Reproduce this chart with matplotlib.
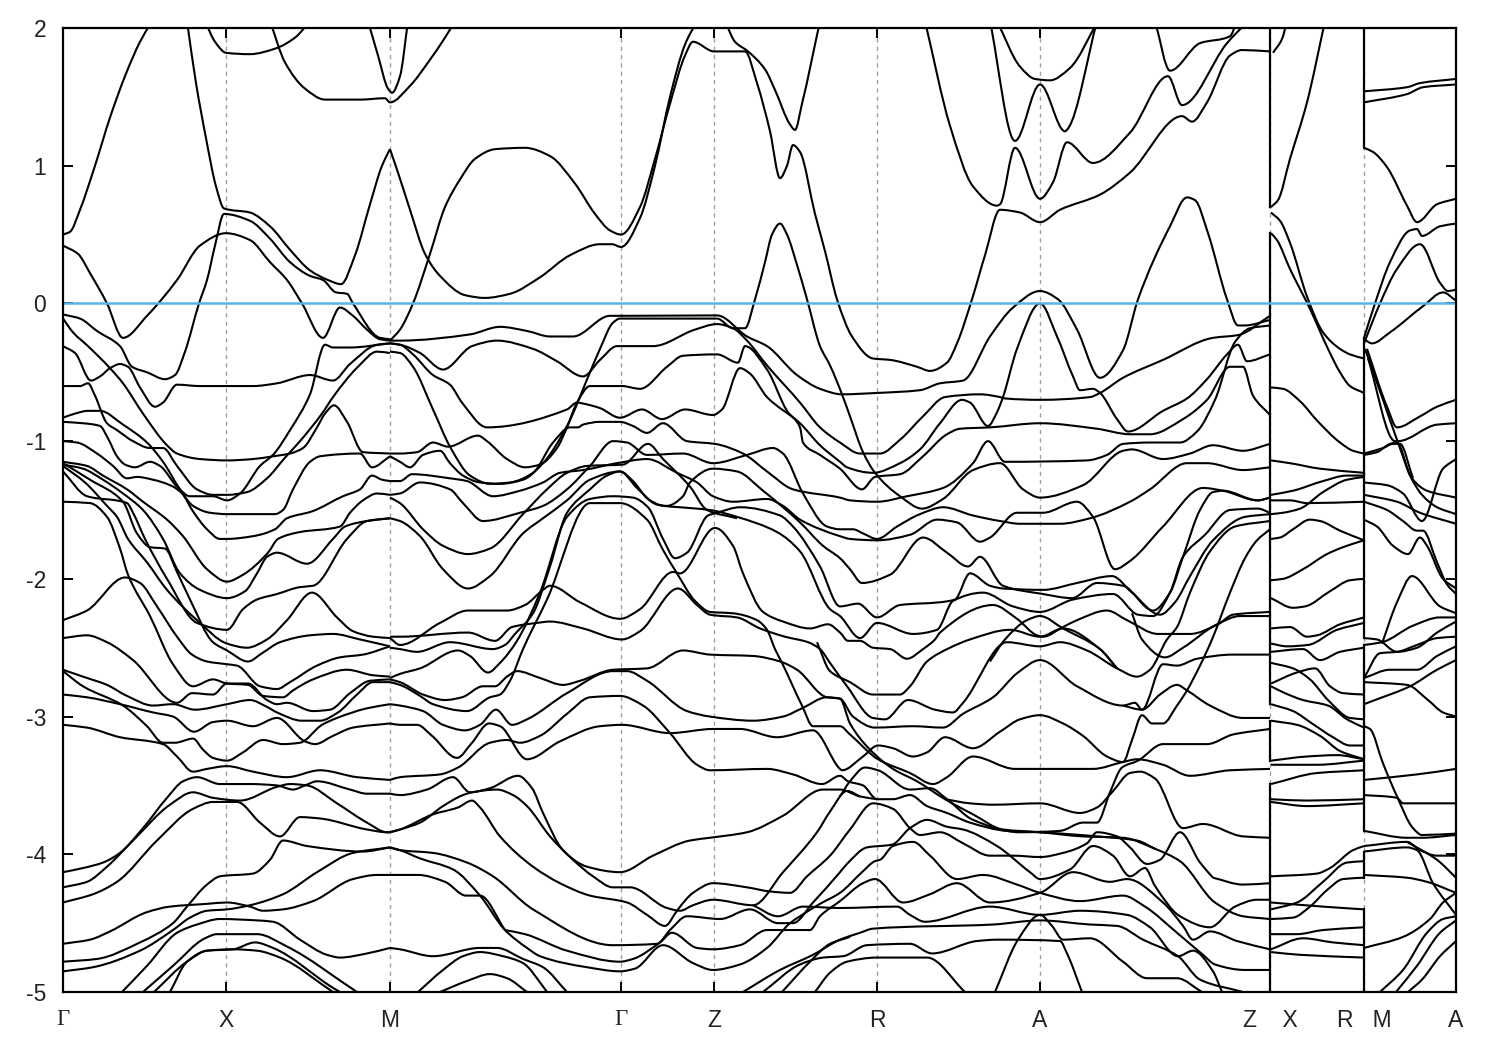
import numpy as np
import matplotlib
matplotlib.use("Agg")
import matplotlib.pyplot as plt
from matplotlib.path import Path
from matplotlib.patches import PathPatch

# high-symmetry points along the k-path (path position) and their labels
k_ticks = [63, 226, 390, 621, 714, 877, 1040, 1270, 1364, 1456]
k_labels = ["Γ", "X", "M", "Γ", "Z", "R", "A", "Z    X", "R   M", "A"]
energy_ticks = [2, 1, 0, -1, -2, -3, -4, -5]

# band pieces: flat lists k, E, k, E ...
# ---- Γ - X - M ----
g01 = [63,.5,70,.52,80,.68,95,1.0,110,1.35,125,1.65,140,1.9,152,2.05]
g02 = [187,2.05,196,1.6,206,1.2,216,.85,224,.69,250,.66,270,.56,290,.39,310,.24,328,.17,341,.14,355,.35,370,.72,382,1.0,390,1.12]
g03 = [63,-.08,80,-.11,97,-.2,120,-.31,132,-.46,147,-.5,165,-.55,175,-.52,185,-.35,199,0,207,.17,215,.42,224,.65,250,.6,270,.47,290,.3,310,.2,323,.17,336,.08,347,.07,353,0,380,-.25,390,-.26]
g04 = [63,.42,78,.36,90,.22,107,0,123,-.25,147,-.09,177,.17,200,.42,226,.51,250,.46,270,.3,287,.17,302,0,323,-.25,340,-.03,353,-.09,367,-.19,380,-.26,390,-.27]
g05 = [205,2.05,215,1.9,226,1.82,250,1.81,275,1.85,295,1.93,310,2.05]
g06 = [270,2.05,285,1.75,305,1.56,325,1.48,360,1.48,385,1.49,390,1.46,410,1.58,430,1.77,445,1.93,455,2.05]
g07 = [368,2.05,378,1.8,388,1.56,392,1.53,400,1.65,408,2.05]
g08 = [63,-.11,73,-.21,88,-.31,110,-.47,123,-.58,143,-.8,167,-1.03,177,-1.09,200,-1.13,227,-1.14,253,-1.13,273,-1.11,290,-1.09,303,-1.05,317,-.9,325,-.8,334,-.74,347,-.86,363,-1.08,390,-1.09]
g09 = [63,-.31,75,-.36,91,-.56,100,-.53,110,-.47,120,-.44,128,-.46,140,-.61,155,-.75,163,-.72,177,-.59,200,-.6,227,-.6,253,-.6,277,-.58,310,-.52,333,-.56,350,-.44,377,-.3,390,-.29]
g10 = [63,-.6,80,-.6,88,-.58,95,-.67,107,-.87,117,-.92,133,-1.0,150,-1.05,163,-1.05,177,-1.18,197,-1.35,213,-1.39,227,-1.39,247,-1.37,267,-1.27,285,-1.12,300,-1.0,322,-.8,333,-.68,358,-.46,377,-.35,390,-.36]
g11 = [63,-.83,75,-.8,88,-.78,100,-.78,123,-.88,147,-1.01,163,-1.15,180,-1.35,193,-1.47,210,-1.52,227,-1.53,253,-1.53,275,-1.53,283,-1.5,293,-1.35,310,-1.15,320,-1.11,360,-1.09,372,-1.19,390,-1.11]
g12 = [63,-.86,83,-.87,100,-.89,108,-.98,117,-1.11,125,-1.17,135,-1.19,150,-1.15,160,-1.18,177,-1.33,190,-1.4,213,-1.4,227,-1.43,240,-1.38,260,-1.18,273,-1.1,290,-.92,310,-.66,325,-.3,333,-.32,350,-.32,390,-.29]
g13 = [63,-1.0,77,-1.01,97,-1.09,113,-1.18,127,-1.27,137,-1.26,153,-1.28,173,-1.33,182,-1.38,193,-1.51,207,-1.64,220,-1.71,227,-1.71,253,-1.69,275,-1.64,287,-1.56,312,-1.51,343,-1.4,360,-1.35,372,-1.25,382,-1.28,390,-1.29]
g14 = [63,-1.15,87,-1.18,103,-1.25,127,-1.35,143,-1.44,167,-1.57,183,-1.69,207,-1.93,227,-2.02,243,-1.97,268,-1.81,278,-1.71,300,-1.66,340,-1.62,350,-1.52,363,-1.43,377,-1.38,390,-1.39]
g15 = [63,-1.17,83,-1.2,103,-1.28,123,-1.38,143,-1.5,163,-1.71,180,-1.96,200,-2.08,227,-2.14,245,-2.09,257,-1.96,267,-1.84,277,-1.81,307,-1.89,333,-1.71,345,-1.62,367,-1.58,390,-1.56]
g16 = [63,-1.22,87,-1.4,127,-1.45,133,-1.52,145,-1.71,167,-2.0,197,-2.32,227,-2.37,243,-2.22,257,-2.15,277,-2.11,300,-2.06,313,-2.05,347,-1.71,367,-1.58,390,-1.56]
g17 = [63,-2.3,87,-2.23,125,-1.99,140,-2.03,157,-2.2,177,-2.42,192,-2.55,207,-2.6,227,-2.62,237,-2.63,260,-2.78,277,-2.8,290,-2.75,317,-2.63,340,-2.57,363,-2.55,390,-2.49]
g18 = [63,-1.44,90,-1.45,107,-1.55,120,-1.78,128,-1.97,150,-2.27,173,-2.62,193,-2.78,213,-2.73,227,-2.76,248,-2.77,263,-2.85,283,-2.86,293,-2.81,313,-2.73,347,-2.66,373,-2.7,390,-2.71]
g19 = [63,-1.18,85,-1.3,107,-1.47,117,-1.55,128,-1.71,147,-1.88,167,-2.08,197,-2.3,227,-2.47,247,-2.5,267,-2.44,287,-2.3,312,-2.1,337,-2.28,353,-2.38,373,-2.42,390,-2.43]
g20 = [63,-1.16,90,-1.28,123,-1.44,137,-1.67,150,-1.77,165,-1.78,177,-1.95,190,-2.15,213,-2.46,227,-2.52,248,-2.6,262,-2.54,280,-2.46,310,-2.41,333,-2.4,360,-2.44,390,-2.49]
g21 = [63,-2.43,87,-2.41,107,-2.46,133,-2.59,177,-2.9,192,-2.83,213,-2.84,227,-2.76,248,-2.76,267,-2.88,277,-2.91,287,-2.9,313,-2.96,330,-2.95,350,-2.83,370,-2.74,390,-2.73]
g22 = [63,-2.66,83,-2.71,107,-2.77,127,-2.85,153,-2.92,173,-2.91,195,-2.95,227,-2.91,250,-2.88,267,-2.93,277,-2.97,302,-3.03,320,-3.03,338,-2.97,357,-2.84,373,-2.75,390,-2.75]
g23 = [63,-2.67,83,-2.78,123,-2.92,147,-3.07,163,-3.19,175,-3.19,193,-3.16,203,-3.24,213,-3.3,227,-3.32,243,-3.26,263,-3.17,283,-3.2,300,-3.19,322,-3.06,337,-3.01,367,-2.94,390,-2.91]
g24 = [63,-2.84,87,-2.86,120,-2.91,153,-2.97,173,-3.0,194,-3.11,213,-3.04,227,-3.03,253,-3.07,277,-3.01,305,-3.18,315,-3.2,333,-3.14,353,-3.08,390,-3.05]
g25 = [63,-3.06,87,-3.08,120,-3.15,163,-3.2,177,-3.29,193,-3.4,207,-3.38,227,-3.36,253,-3.4,287,-3.44,320,-3.39,357,-3.44,390,-3.46]
g26 = [63,-4.13,83,-4.1,103,-4.06,120,-3.99,143,-3.81,167,-3.59,183,-3.47,197,-3.44,220,-3.49,250,-3.49,277,-3.5,293,-3.53,305,-3.5,317,-3.47,350,-3.53,367,-3.56,390,-3.56]
g27 = [63,-4.24,87,-4.2,107,-4.09,133,-3.9,170,-3.64,193,-3.55,213,-3.59,240,-3.61,277,-3.51,290,-3.49,307,-3.5,337,-3.63,367,-3.77,387,-3.84,390,-3.84]
g28 = [63,-4.35,93,-4.29,117,-4.2,157,-3.9,193,-3.67,213,-3.62,237,-3.62,260,-3.77,280,-3.87,300,-3.73,320,-3.74,367,-3.82,387,-3.84,390,-3.84]
g29 = [63,-4.65,90,-4.62,110,-4.56,147,-4.42,170,-4.38,207,-4.36,227,-4.35,250,-4.38,263,-4.41,283,-4.4,313,-4.34,353,-4.18,377,-4.15,418,-4.15,445,-4.2,466,-4.3,480,-4.3,505,-4.55]
g30 = [63,-4.78,97,-4.76,140,-4.64,173,-4.5,187,-4.38,207,-4.22,220,-4.16,253,-4.14,270,-4.04,283,-3.9,307,-3.94,363,-3.98,390,-3.95]
g31 = [63,-4.85,93,-4.82,140,-4.7,173,-4.55,190,-4.46,207,-4.41,227,-4.4,250,-4.37,283,-4.29,317,-4.13,353,-3.99,390,-3.95]
g32 = [122,-5,147,-4.81,177,-4.57,197,-4.51,220,-4.47,257,-4.48,273,-4.49,300,-4.62,327,-4.73,340,-4.75,367,-4.72,390,-4.68]
g33 = [143,-5,173,-4.81,205,-4.61,217,-4.58,257,-4.58,287,-4.67,357,-5]
g34 = [154,-5,187,-4.78,207,-4.7,233,-4.69,255,-4.64,273,-4.68,333,-4.97,340,-5]
g35 = [170,-5,187,-4.78,207,-4.7,233,-4.69,257,-4.7,280,-4.75,333,-5]

# ---- M - Γ - Z - (towards R) ----
m01 = [390,1.12,398,.95,410,.68,425,.36,440,.2,465,.06,485,.04,510,.07,540,.19,570,.35,600,.43,612,.43,621,.41,640,.62,655,1.0,670,1.5,685,1.88,697,2.05]
m02 = [390,-.27,400,-.19,413,0,430,.36,445,.7,460,.9,475,1.05,495,1.12,525,1.13,550,1.07,575,.87,595,.65,610,.53,621,.5,640,.7,655,1.05,670,1.45,685,1.8,693,1.9,714,1.83,745,1.83,757,1.6,770,1.25,780,.91,787,1.0,793,1.15,800,1.1,815,.65,825,.38,837,.03,852,-.24,873,-.4,890,-.41,917,-.46,930,-.49,947,-.43,957,-.29,972,.03,985,.35,1000,.68,1020,.66,1040,.59,1060,.68,1100,.79,1130,.95,1182,1.36,1192,1.32,1207,1.46,1230,1.8,1242,1.84,1270,1.83]
m03 = [725,2.05,735,1.9,748,1.83,765,1.7,775,1.55,790,1.3,795,1.26,802,1.45,820,2.05]
m04 = [390,-.27,400,-.27,470,-.225,500,-.17,527,-.2,550,-.24,573,-.24,610,-.09,622,-.09,717,-.087,747,-.24,767,-.31,797,-.52,820,-.62,842,-.66,877,-.65,920,-.63,940,-.58,963,-.56,990,-.24,1013,-.03,1040,.09,1058,.03,1077,-.19,1100,-.54,1123,-.34,1138,.03,1170,.56,1187,.77,1195,.75,1208,.51,1227,.03,1238,-.16,1245,-.16,1270,-.12]
m05 = [390,-1.11,400,-1.15,410,-1.19,423,-1.1,440,-1.07,450,-1.16,463,-1.25,480,-1.3,500,-1.31,523,-1.28,543,-1.16,567,-.89,590,-.5,600,-.33,613,-.14,620,-.11,717,-.11,733,-.18,745,-.18,755,.03,765,.3,772,.5,780,.58,787,.5,797,.28,807,.03,820,-.31,830,-.45,842,-.66,850,-.82,863,-1.08,875,-1.23,900,-1.4,922,-1.49,943,-1.42,973,-1.21,1000,-1.16,1023,-1.35,1040,-1.41,1083,-1.32,1123,-1.07,1132,-1.06,1163,-1.13,1190,-1.09,1213,-1.03,1243,-1.07,1270,-1.02]
m06 = [390,-.29,400,-.3,420,-.36,443,-.48,472,-.31,497,-.27,533,-.33,557,-.42,583,-.53,600,-.41,617,-.31,653,-.31,695,-.19,717,-.15,733,-.18,747,-.27,767,-.45,800,-.72,820,-.9,840,-1.01,860,-1.09,880,-1.09,900,-.99,923,-.82,945,-.68,980,-.66,1000,-.68,1005,-.69,1040,-.7,1090,-.68,1100,-.65,1123,-.54,1163,-.41,1213,-.25,1238,-.23,1270,-.09]
m07 = [390,-.29,400,-.3,413,-.37,433,-.52,450,-.59,462,-.72,487,-.9,567,-.77,577,-.72,585,-.73,600,-.76,620,-.83,642,-.77,662,-.84,685,-.77,713,-.81,722,-.77,740,-.47,750,-.51,767,-.68,800,-.87,820,-1.03,840,-1.15,847,-1.19,873,-1.23,900,-1.16,920,-1.06,940,-.87,962,-.7,970,-.72,988,-.89,997,-.79,1003,-.68,1017,-.33,1040,0,1057,-.24,1073,-.53,1080,-.63,1093,-.62,1100,-.65,1117,-.84,1128,-.93,1163,-.78,1187,-.69,1207,-.55,1227,-.37,1238,-.3,1247,-.42,1270,-.37]
m08 = [390,-.35,400,-.36,413,-.46,433,-.77,450,-1.04,470,-1.25,490,-1.31,510,-1.3,533,-1.23,553,-1.01,570,-.9,578,-.9,583,-.88,600,-.86,620,-.86,633,-.89,647,-.94,663,-.87,687,-1.0,715,-1.02,743,-1.09,767,-1.22,793,-1.35,840,-1.41,850,-1.43,877,-1.44,907,-1.4,943,-1.34,973,-1.16,988,-1.0,1005,-1.15,1087,-1.14,1107,-1.1,1123,-1.02,1150,-1.01,1180,-1.01,1197,-.93,1215,-.7,1235,-.28,1250,-.18,1270,-.16]
m09 = [390,-1.09,400,-1.09,417,-1.08,433,-1.01,448,-1.04,478,-.96,487,-1.0,507,-1.13,525,-1.19,540,-1.17,557,-1.05,567,-.9,577,-.72,590,-.6,600,-.6,622,-.6,640,-.62,667,-.46,683,-.38,717,-.37,738,-.43,745,-.31,767,-.48,787,-.78,800,-.9,803,-1.01,820,-1.1,840,-1.2,862,-1.35,875,-1.26,900,-1.24,923,-1.11,947,-.95,960,-.91,990,-.9,1040,-.87,1097,-.91,1130,-.95,1150,-.95,1183,-.84,1207,-.7,1230,-.46,1243,-.46,1253,-.67,1270,-.81]
m10 = [390,-1.29,400,-1.29,412,-1.24,450,-1.27,467,-1.29,493,-1.4,520,-1.36,543,-1.3,560,-1.23,583,-1.21,617,-1.16,647,-1.13,677,-1.23,697,-1.3,713,-1.4,733,-1.44,767,-1.42,783,-1.47,800,-1.57,840,-1.69,850,-1.71,877,-1.72,910,-1.68,937,-1.57,957,-1.59,980,-1.73,990,-1.7,1017,-1.52,1043,-1.52,1077,-1.44,1093,-1.55,1115,-1.93,1130,-1.87,1163,-1.62,1203,-1.34,1223,-1.36,1258,-1.43,1270,-1.41]
m11 = [390,-1.39,400,-1.38,420,-1.3,450,-1.35,463,-1.45,483,-1.58,520,-1.52,543,-1.47,567,-1.35,590,-1.18,613,-1.0,627,-1.01,647,-1.1,683,-1.09,713,-1.16,747,-1.1,773,-1.05,783,-1.09,803,-1.38,827,-1.62,840,-1.64,853,-1.64,863,-1.67,877,-1.71,897,-1.62,920,-1.53,943,-1.48,973,-1.54,1000,-1.58,1020,-1.6,1060,-1.6,1090,-1.56,1130,-1.44,1150,-1.35,1187,-1.16,1207,-1.16,1243,-1.21,1270,-1.19]
m12 = [390,-1.41,400,-1.45,423,-1.64,443,-1.76,468,-1.82,490,-1.78,523,-1.53,547,-1.35,567,-1.23,587,-1.18,623,-1.17,648,-1.02,663,-1.13,690,-1.33,707,-1.5,737,-1.56]
m13 = [390,-1.56,400,-1.58,420,-1.69,443,-1.93,468,-2.07,490,-1.98,523,-1.67,543,-1.56,567,-1.43,590,-1.28,620,-1.22,637,-1.34,657,-1.46,667,-1.47,683,-1.4,690,-1.3,713,-1.2,737,-1.22,763,-1.36,800,-1.59,823,-1.76,840,-1.85,850,-1.93,862,-2.03,890,-1.97,923,-1.7,947,-1.81,968,-1.91,980,-1.84,1003,-2.05,1043,-2.11,1072,-2.14,1097,-2.03,1123,-2.05,1153,-2.23,1170,-2.1,1183,-1.84,1200,-1.5,1213,-1.37,1223,-1.36,1258,-1.43,1270,-1.41]
m14 = [390,-2.5,400,-2.51,417,-2.53,450,-2.46,493,-2.51,505,-2.48,515,-2.4,533,-2.25,550,-1.91,567,-1.52,590,-1.35,607,-1.25,620,-1.22,633,-1.29,648,-1.42,663,-1.47,680,-1.48,710,-1.5,737,-1.55,777,-1.66,800,-1.8,830,-2.22,840,-2.27,860,-2.43,877,-2.32,913,-2.4,937,-2.37,953,-2.16,983,-2.1,1013,-2.2,1040,-2.24,1073,-2.15,1113,-2.11,1138,-2.26,1153,-2.27,1170,-2.1,1183,-1.84,1205,-1.68,1230,-1.5,1258,-1.49,1270,-1.52]
m15 = [390,-2.72,400,-2.69,420,-2.65,458,-2.52,470,-2.56,488,-2.68,500,-2.61,517,-2.45,540,-2.1,567,-1.55,590,-1.42,613,-1.4,633,-1.41,648,-1.48,663,-1.71,675,-1.85,687,-1.81,708,-1.54,717,-1.52,740,-1.48,780,-1.54,793,-1.62,820,-1.91,840,-2.2,858,-2.18,877,-2.28,900,-2.19,940,-2.17,955,-2.15,970,-1.96,990,-2.05,1003,-2.07,1043,-2.08,1077,-2.03,1112,-1.98,1132,-2.1,1160,-2.26,1175,-2.17,1190,-1.98,1213,-1.72,1245,-1.55,1270,-1.53]
m16 = [390,-2.75,400,-2.77,420,-2.85,433,-2.91,467,-2.96,490,-2.86,500,-2.84,510,-2.74,523,-2.51,547,-2.15,590,-1.45,620,-1.45,647,-1.57,663,-1.79,677,-1.96,695,-2.16,710,-2.24,733,-2.25,757,-2.3,767,-2.37,775,-2.51,782,-2.61,802,-2.92,813,-3.07,840,-3.07,850,-3.13,878,-3.31,910,-3.41,933,-3.49,947,-3.44,973,-3.29,1015,-3.38,1093,-3.38,1123,-3.33,1137,-3.31,1163,-3.35,1190,-3.43,1230,-3.39,1270,-3.38]
m17 = [390,-2.43,400,-2.48,440,-2.32,468,-2.23,507,-2.23,525,-2.19,543,-2.08,550,-2.05,580,-2.17,620,-2.29,640,-2.22,673,-1.95,680,-1.96,715,-1.63,733,-1.76,743,-1.96,763,-2.24,783,-2.31,810,-2.36,828,-2.33,840,-2.39,848,-2.45,860,-2.45,873,-2.5,890,-2.51,907,-2.58,923,-2.51,935,-2.44,940,-2.39,993,-2.19,1017,-2.29,1037,-2.41,1043,-2.42,1063,-2.35,1077,-2.3,1107,-2.23,1127,-2.3,1158,-2.4,1190,-2.4,1218,-2.33,1233,-2.26,1270,-2.24]
m18 = [390,-2.42,400,-2.42,468,-2.39,495,-2.45,512,-2.35,537,-2.32,550,-2.31,583,-2.36,622,-2.44,640,-2.38,678,-2.07,697,-2.19,710,-2.26,737,-2.28,760,-2.36,785,-2.42,808,-2.46,820,-2.51,830,-2.61,847,-2.78,873,-3.01,885,-3.02,908,-2.88,935,-2.95,953,-2.97,963,-2.9,1007,-2.46,1040,-2.49,1060,-2.46,1087,-2.52,1117,-2.65,1137,-2.71,1150,-2.66,1167,-2.44,1177,-2.35,1190,-2.1,1210,-1.8,1235,-1.62,1270,-1.58]
m21 = [390,-2.73,400,-2.75,423,-2.84,445,-2.88,462,-2.86,483,-2.78,495,-2.78,507,-2.71,517,-2.67,540,-2.72,563,-2.77,580,-2.74,613,-2.66,647,-2.65,683,-2.52,710,-2.55,753,-2.56,780,-2.6,797,-2.66,827,-2.86,840,-2.87,853,-3.0,875,-3.08,913,-3.07,943,-3.08,963,-2.98,993,-2.86,1018,-2.68,1040,-2.59,1077,-2.78,1123,-2.92,1135,-2.9,1142,-2.95,1163,-2.62,1177,-2.63,1197,-2.58,1233,-2.55,1270,-2.55]
m23 = [390,-2.91,400,-2.92,423,-2.96,443,-3.06,465,-3.1,480,-3.06,496,-2.95,512,-3.06,527,-3.02,567,-2.83,613,-2.67,627,-2.67,647,-2.74,687,-2.96,710,-3.0,753,-3.03,783,-3.0,802,-2.94,827,-2.86,840,-2.87,850,-3.05,870,-3.24,893,-3.38,917,-3.47,945,-3.6,973,-3.71,1003,-3.82,1040,-3.84,1083,-3.87,1123,-3.88,1155,-3.96,1180,-4.05,1215,-4.35,1243,-4.45,1270,-4.47]
m24 = [390,-3.05,400,-3.06,417,-3.06,432,-3.14,457,-3.3,472,-3.19,489,-3.05,500,-3.07,527,-3.31,560,-3.18,600,-3.07,622,-3.06,670,-3.12,713,-3.09,740,-3.09,777,-3.15,813,-3.1,840,-3.38,842,-3.39,863,-3.29,878,-3.21,893,-3.23,913,-3.29,927,-3.26,945,-3.15,973,-3.23,1000,-3.11,1020,-3.02,1040,-2.99,1063,-3.05,1083,-3.14,1107,-3.29,1123,-3.33,1132,-3.17,1142,-2.99,1152,-3.05,1163,-3.05,1177,-2.92,1187,-2.81,1200,-2.63,1212,-2.44,1230,-2.1,1245,-1.85,1257,-1.72,1270,-1.64]
m25 = [390,-3.46,400,-3.44,440,-3.42,458,-3.37,490,-3.19,507,-3.17,520,-3.19,540,-3.14,567,-2.98,590,-2.86,620,-2.85,643,-2.92,670,-3.12,697,-3.35,710,-3.39,767,-3.38,793,-3.42,822,-3.49,840,-3.43,848,-3.47,863,-3.5,877,-3.6,893,-3.6,910,-3.57,927,-3.65,947,-3.7,970,-3.77,1007,-3.83,1040,-3.84,1097,-3.87,1137,-3.9,1155,-3.96]
m26 = [390,-3.56,400,-3.57,427,-3.53,453,-3.44,470,-3.55,490,-3.52,518,-3.43,532,-3.52,543,-3.7,563,-3.97,587,-4.09,620,-4.13,653,-4.01,690,-3.9,710,-3.88,747,-3.84,783,-3.72,823,-3.53,840,-3.53,860,-3.58,877,-3.6]
m27 = [390,-3.84,400,-3.82,433,-3.71,458,-3.66,472,-3.61,480,-3.66,500,-3.87,533,-4.09,560,-4.21,590,-4.3,627,-4.35,647,-4.44,665,-4.52,677,-4.41,687,-4.32,693,-4.28,713,-4.21,747,-4.24,770,-4.27,790,-4.28,807,-4.16,830,-4.01,850,-3.82,873,-3.63,893,-3.67,910,-3.81,920,-3.86,940,-3.84,963,-3.92,990,-4.01,1013,-4.01,1040,-4.02,1063,-3.99,1087,-3.92,1097,-3.84,1117,-3.87,1130,-3.95,1147,-4.07,1160,-4.04,1180,-3.84,1200,-4.06,1213,-4.17]
m28 = [390,-3.84,400,-3.82,420,-3.77,443,-3.65,463,-3.57,472,-3.55,497,-3.53,513,-3.57,527,-3.65,550,-3.87,573,-4.04,593,-4.16,613,-4.24,630,-4.24,667,-4.39,680,-4.41,693,-4.37,713,-4.33,753,-4.37,783,-4.13,817,-3.84,830,-3.69,847,-3.54,860,-3.58]
m29 = [753,-4.37,778,-4.45,803,-4.38,840,-4.39,897,-4.38,910,-4.44,925,-4.49,990,-4.38,1040,-4.44,1080,-4.41,1127,-4.44,1150,-4.53,1178,-4.74,1193,-4.7,1213,-4.85,1222,-5]
m30 = [390,-3.95,400,-3.97,433,-3.99,467,-4.06,493,-4.16,533,-4.4,613,-4.66,657,-4.65,670,-4.55,687,-4.45,720,-4.47,750,-4.4,778,-4.5,793,-4.5,813,-4.35,840,-4.13,847,-4.07,867,-3.95,892,-3.93,910,-3.81,927,-3.75,947,-3.8,963,-3.82,997,-3.94,1030,-4.13,1040,-4.18,1070,-4.11,1093,-3.94,1113,-4.01,1130,-4.16,1145,-4.1,1155,-4.23,1180,-4.45,1210,-4.53,1235,-4.38,1257,-4.33,1270,-4.33]
m31 = [390,-3.95,400,-3.97,420,-4.03,453,-4.11,480,-4.3,505,-4.55,527,-4.68,540,-4.74,587,-4.82,620,-4.85,635,-4.83,663,-4.66,693,-4.79,713,-4.84,740,-4.8,767,-4.68,790,-4.5,800,-4.45,820,-4.36,840,-4.28,862,-4.13,875,-4.05,880,-4.04,893,-3.94,913,-3.91,930,-4.01,957,-4.18,983,-4.15,1017,-4.22,1040,-4.28,1080,-4.34,1123,-4.3,1145,-4.38,1177,-4.57,1203,-4.73,1215,-4.8,1245,-4.84,1270,-4.84]
m32 = [505,-4.55,525,-4.58,567,-4.7,620,-4.78,633,-4.76,660,-4.64,672,-4.57,697,-4.68,713,-4.69,740,-4.66,767,-4.55,790,-4.55,810,-4.55,820,-4.45,840,-4.34,863,-4.21,875,-4.18,903,-4.35,930,-4.29,957,-4.21,990,-4.35,1040,-4.28,1073,-4.13,1110,-4.2,1127,-4.18,1163,-4.35,1183,-4.52,1193,-4.62,1210,-4.56,1237,-4.63,1270,-4.69]
m33 = [390,-4.68,400,-4.69,433,-4.74,480,-4.68,497,-4.68,523,-4.76,543,-4.82,567,-5]
m34 = [418,-5,443,-4.84,463,-4.74,480,-4.71,503,-4.74,523,-4.79,543,-4.96,547,-5]
m35 = [440,-5,467,-4.92,490,-4.87,507,-4.9,527,-5]
m36 = [743,-5,780,-4.84,813,-4.73,840,-4.62,860,-4.57,873,-4.54,993,-4.51,1040,-4.48,1090,-4.51,1117,-4.52,1143,-4.62,1178,-4.74,1200,-4.91,1243,-5]
m37 = [763,-5,800,-4.8,823,-4.75,843,-4.74,867,-4.66,910,-4.65,932,-4.72,977,-4.63,997,-4.62,1060,-4.63,1067,-4.72,1082,-5]
m38 = [782,-5,810,-4.78,830,-4.65,850,-4.6]
m39 = [815,-5,830,-4.86,847,-4.78,877,-4.75,927,-4.75,965,-5]
m40 = [995,-5,1018,-4.62,1040,-4.44,1052,-4.52,1063,-4.62,1090,-4.61,1123,-4.78,1147,-4.9,1177,-4.9,1202,-5]

# ---- R - A - Z ----
r01 = [817,-2.46,830,-2.67,850,-2.75,873,-2.84,900,-2.84,910,-2.78,927,-2.6,950,-2.5,970,-2.44,1010,-2.37,1040,-2.42,1063,-2.36,1100,-2.51,1117,-2.65]
r02 = [925,2.05,950,1.29,973,.85,997,.71,1000,.72,1015,1.13,1040,.76,1053,.88,1067,1.17,1093,1.02,1130,1.24,1168,1.65,1182,1.44,1227,1.89,1248,2.05]
r03 = [990,2.05,1015,1.18,1040,1.59,1065,1.25,1068,1.27,1097,2.05]
r04 = [997,2.05,1020,1.72,1035,1.63,1050,1.62,1070,1.71,1098,2.05]
r05 = [1155,2.05,1170,1.69,1200,1.89,1230,1.94,1237,2.05]
r06 = [945,-3.6,970,-3.63,993,-3.64,1040,-3.63,1080,-3.7,1097,-3.66,1112,-3.55,1130,-3.41,1140,-3.4,1155,-3.45,1183,-3.81,1203,-3.78,1243,-3.87,1270,-3.88]
r08 = [840,-3.58,850,-3.47,865,-3.37,878,-3.39,910,-3.53,930,-3.52,947,-3.6,973,-3.75,1020,-3.84,1060,-3.83,1083,-3.77,1097,-3.77,1110,-3.55,1122,-3.37,1138,-3.32,1163,-3.2,1207,-3.2,1233,-3.13,1270,-3.09]
r09 = [1123,-2.92,1142,-2.95,1160,-2.84,1177,-2.77,1187,-2.81,1210,-2.92,1243,-3.01,1270,-3.01]
r10 = [1132,-2.25,1142,-2.44,1165,-2.57,1183,-2.5,1217,-2.33,1240,-2.27,1270,-2.27]
r11 = [990,-2.6,1005,-2.44,1027,-2.3,1040,-2.27,1063,-2.36,1100,-2.51,1117,-2.65]
r12 = [1213,-4.17,1243,-4.22,1270,-4.21]

# ---- X - R ----
x01 = [1271,.7,1278,.75,1290,1.05,1307,1.46,1325,2.05]
x02 = [1273,1.82,1282,1.92,1287,2.05]
x03 = [1271,.66,1280,.6,1290,.44,1307,.05,1323,-.21,1340,-.33,1350,-.37,1364,-.4]
x04 = [1271,.51,1277,.46,1290,.25,1310,-.04,1328,-.33,1340,-.5,1350,-.6,1364,-.65]
x05 = [1271,-.61,1283,-.62,1300,-.71,1317,-.85,1340,-1.01,1353,-1.07,1364,-1.09]
x06 = [1271,-1.14,1290,-1.16,1320,-1.2,1364,-1.23]
x07 = [1271,-1.39,1293,-1.36,1323,-1.29,1347,-1.25,1364,-1.25]
x08 = [1271,-1.43,1290,-1.43,1307,-1.45,1364,-1.44]
x09 = [1271,-1.53,1283,-1.52,1300,-1.49,1323,-1.37,1347,-1.28,1364,-1.26]
x10 = [1271,-1.71,1280,-1.7,1293,-1.64,1310,-1.57,1320,-1.58,1340,-1.65,1364,-1.72]
x11 = [1271,-2.01,1283,-2.0,1303,-1.93,1327,-1.82,1343,-1.77,1364,-1.72]
x12 = [1271,-2.14,1293,-2.21,1305,-2.2,1330,-2.09,1350,-2.01,1364,-2.0]
x13 = [1271,-2.36,1290,-2.35,1307,-2.42,1317,-2.41,1340,-2.33,1364,-2.28]
x14 = [1271,-2.47,1287,-2.49,1308,-2.48,1337,-2.37,1364,-2.32]
x15 = [1271,-2.53,1303,-2.51,1320,-2.59,1340,-2.53,1364,-2.5]
x16 = [1271,-2.61,1293,-2.65,1310,-2.73,1328,-2.88,1350,-3.01,1364,-3.02]
x17 = [1271,-2.76,1297,-2.68,1315,-2.65,1330,-2.78,1343,-2.83,1364,-2.84]
x18 = [1271,-2.91,1293,-2.96,1312,-3.05,1333,-3.15,1350,-3.21,1364,-3.21]
x19 = [1271,-2.78,1285,-2.83,1303,-2.88,1328,-2.92,1347,-3.02,1364,-3.08]
x20 = [1271,-3.03,1297,-3.06,1320,-3.14,1340,-3.25,1364,-3.31]
x21 = [1271,-3.32,1307,-3.29,1337,-3.28,1364,-3.31]
x22 = [1271,-3.35,1317,-3.35,1364,-3.32]
x23 = [1271,-3.49,1317,-3.41,1364,-3.39]
x24 = [1271,-3.6,1307,-3.61,1364,-3.6]
x25 = [1271,-3.62,1307,-3.65,1364,-3.63]
x26 = [1271,-4.16,1317,-4.14,1330,-4.1,1353,-3.97,1364,-3.94]
x27 = [1271,-4.4,1297,-4.35,1323,-4.2,1347,-4.06,1364,-4.05]
x28 = [1271,-4.47,1293,-4.46,1310,-4.38,1327,-4.26,1343,-4.18,1364,-4.17]
x29 = [1271,-4.35,1323,-4.38,1364,-4.4]
x30 = [1271,-4.58,1297,-4.58,1323,-4.55,1364,-4.53]
x31 = [1271,-4.69,1303,-4.61,1333,-4.64,1364,-4.66]
x32 = [1271,-4.71,1300,-4.73,1364,-4.75]

# ---- M - A ----
a01 = [1364,1.54,1407,1.57,1420,1.6,1456,1.63]
a02 = [1364,1.46,1407,1.52,1423,1.57,1456,1.59]
a03 = [1364,1.13,1373,1.1,1387,.99,1407,.71,1417,.59,1437,.72,1456,.76]
a04 = [1364,-.25,1375,0,1390,.3,1410,.53,1417,.54,1422,.49,1440,.56,1456,.58]
a05 = [1364,-.29,1380,0,1397,.25,1420,.43,1440,.15,1448,.09,1456,.1]
a06 = [1364,-.26,1372,-.29,1390,-.21,1423,-.02,1443,.08,1456,.02]
a07 = [1365,-.33,1383,-.7,1397,-.99,1413,-1.28,1427,-1.36,1456,-1.41]
a08 = [1367,-.33,1387,-.75,1397,-.9,1420,-.82,1437,-.75,1456,-.7]
a09 = [1368,-.4,1395,-1.0,1398,-1.0,1437,-.88,1456,-.87]
a10 = [1364,-1.1,1377,-1.08,1390,-1.02,1397,-1.01,1410,-1.25,1422,-1.39,1437,-1.48,1456,-1.53]
a11 = [1364,-1.09,1383,-1.05,1393,-1.02,1400,-1.02,1413,-1.27]
a12 = [1364,-1.3,1387,-1.32,1403,-1.38,1422,-1.58,1443,-1.2,1456,-1.13]
a13 = [1364,-1.39,1397,-1.44,1420,-1.52,1456,-1.6]
a14 = [1364,-1.44,1387,-1.5,1403,-1.58,1417,-1.65,1423,-1.65,1437,-1.88,1447,-2.04,1456,-2.11]
a15 = [1364,-1.57,1377,-1.62,1393,-1.76,1408,-1.82,1420,-1.7,1427,-1.76,1443,-2.0,1456,-2.07]
a16 = [1382,-2.47,1397,-2.17,1412,-1.98,1440,-2.2,1456,-2.25]
a17 = [1364,-2.48,1382,-2.46,1413,-2.34,1440,-2.28,1456,-2.28]
a18 = [1364,-2.43,1377,-2.44,1397,-2.53,1417,-2.5,1437,-2.39,1456,-2.31]
a19 = [1364,-2.72,1380,-2.54,1397,-2.53,1417,-2.48,1437,-2.43,1456,-2.42]
a20 = [1364,-2.72,1390,-2.66,1417,-2.66,1437,-2.56,1456,-2.49]
a21 = [1364,-2.91,1375,-2.88,1410,-2.78,1437,-2.66,1456,-2.59]
a22 = [1364,-2.75,1407,-2.77,1428,-2.88,1443,-2.97,1456,-3.0]
a24 = [1364,-3.07,1370,-3.09,1383,-3.34,1397,-3.58,1413,-3.81,1422,-3.86,1456,-3.85]
a25 = [1364,-3.46,1417,-3.42,1456,-3.38]
a26 = [1364,-3.57,1397,-3.59,1403,-3.63,1456,-3.63]
a27 = [1364,-3.83,1407,-3.88,1422,-3.88,1456,-3.86]
a28 = [1364,-3.94,1407,-3.91,1420,-3.97,1437,-4.01,1456,-4.01]
a29 = [1364,-3.98,1407,-3.95,1417,-3.97,1433,-4.21,1456,-4.44]
a30 = [1407,-3.91,1437,-4.04,1456,-4.17]
a31 = [1364,-4.15,1407,-4.17,1427,-4.2,1456,-4.28]
a32 = [1364,-4.68,1403,-4.6,1430,-4.47,1443,-4.35,1456,-4.28]
a33 = [1380,-5,1403,-4.84,1427,-4.57,1443,-4.47,1456,-4.45]
a34 = [1396,-5,1417,-4.81,1440,-4.57,1456,-4.48]
a35 = [1408,-5,1422,-4.91,1440,-4.74,1456,-4.63]

# energy jumps at the two path breaks: [E_top, E_bottom] pairs
jumps_at_ZX = [[2, .7], [.51, -2.91], [-3.03, -3.32], [-3.49, -5]]
jumps_at_RM = [[2, 1.13], [-.25, -2.43], [-2.48, -3.83], [-3.98, -4.17], [-4.4, -5]]

bands = [g01,g02,g03,g04,g05,g06,g07,g08,g09,g10,g11,g12,g13,g14,g15,g16,g17,g18,g19,g20,
         g21,g22,g23,g24,g25,g26,g27,g28,g29,g30,g31,g32,g33,g34,g35,
         m01,m02,m03,m04,m05,m06,m07,m08,m09,m10,m11,m12,m13,m14,m15,m16,m17,m18,
         m21,m23,m24,m25,m26,m27,m28,m29,m30,m31,m32,m33,m34,m35,m36,m37,m38,m39,m40,
         r01,r02,r03,r04,r05,r06,r08,r09,r10,r11,r12,
         x01,x02,x03,x04,x05,x06,x07,x08,x09,x10,x11,x12,x13,x14,x15,x16,x17,x18,x19,x20,
         x21,x22,x23,x24,x25,x26,x27,x28,x29,x30,x31,x32,
         a01,a02,a03,a04,a05,a06,a07,a08,a09,a10,a11,a12,a13,a14,a15,a16,a17,a18,a19,a20,
         a21,a22,a24,a25,a26,a27,a28,a29,a30,a31,a32,a33,a34,a35]


def smooth_path(xs, ys):
    """Bezier path through the read points (no overshoot at extrema)."""
    xs, ys = np.asarray(xs, float), np.asarray(ys, float)
    h = np.diff(xs)
    d = np.diff(ys) / h
    m = np.zeros_like(xs)
    m[0], m[-1] = d[0], d[-1]
    for i in range(1, len(xs) - 1):
        if d[i-1] * d[i] > 0:
            w1, w2 = 2*h[i] + h[i-1], h[i] + 2*h[i-1]
            m[i] = (w1 + w2) / (w1 / d[i-1] + w2 / d[i])
    verts, codes = [(xs[0], ys[0])], [Path.MOVETO]
    for i in range(len(h)):
        verts += [(xs[i] + h[i]/3, ys[i] + m[i]*h[i]/3),
                  (xs[i+1] - h[i]/3, ys[i+1] - m[i+1]*h[i]/3),
                  (xs[i+1], ys[i+1])]
        codes += [Path.CURVE4] * 3
    return Path(verts, codes)


plt.rcParams['font.family'] = ['Liberation Sans', 'DejaVu Sans']
fig = plt.figure(figsize=(15, 10.5), dpi=100)
ax = fig.add_axes([63/1500, 1-992/1050, 1393/1500, 964/1050])

for x in k_ticks[1:-1]:
    ax.axvline(x, color='#a0a0a0', lw=1.0, ls=(0, (3, 3)), zorder=1)

for b in bands:
    ax.add_patch(PathPatch(smooth_path(b[0::2], b[1::2]), fc='none', ec='black',
                           lw=1.5, joinstyle='round', zorder=2))

for xj, spans in [(k_ticks[7], jumps_at_ZX), (k_ticks[8], jumps_at_RM)]:
    for top, bot in spans:
        ax.plot([xj, xj], [top, bot], color='black', lw=1.6, zorder=2)

ax.axhline(0, color='#56b4e9', lw=1.8, zorder=3)

ax.set_xlim(k_ticks[0], k_ticks[-1])
ax.set_ylim(-5, 2)
ax.set_xticks(k_ticks)
ax.set_xticklabels(k_labels, fontsize=16.5)
for lab, txt in zip(ax.get_xticklabels(), k_labels):
    if txt == "Γ":
        lab.set_family(['Liberation Serif', 'DejaVu Serif'])
ax.set_yticks(energy_ticks)
ax.set_yticklabels([str(v) for v in energy_ticks], fontsize=16.5)
ax.tick_params(axis='both', direction='in', length=7, width=1.4, top=True, right=True,
               color='black', labelcolor='#222222')
ax.tick_params(axis='x', pad=12)
ax.tick_params(axis='y', pad=12)
for s in ax.spines.values():
    s.set_linewidth(1.6)
    s.set_zorder(5)

fig.savefig('out.png', dpi=100)
